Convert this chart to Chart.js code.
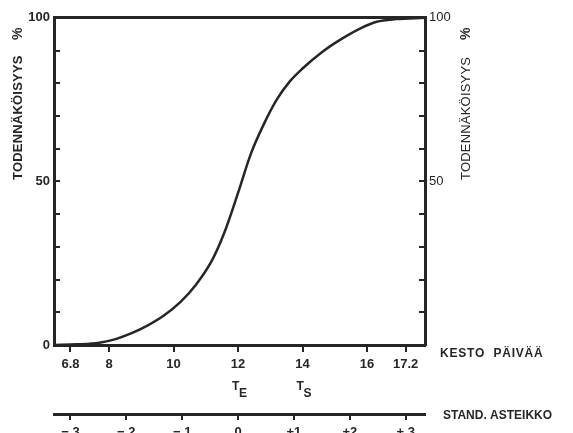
<!DOCTYPE html>
<html>
<head>
<meta charset="utf-8">
<script src="https://cdn.jsdelivr.net/npm/chart.js@4.4.0/dist/chart.umd.min.js"></script>
<style>
  html, body { margin: 0; padding: 0; background: #fff; }
  #wrap { width: 573px; height: 433px; }
</style>
</head>
<body>
<div id="wrap"><canvas id="sCurve" width="573" height="433"></canvas></div>
<script>
// duration (days) and cumulative probability (%)
const durationDays = [6.3, 7.0, 7.7, 8.2, 8.7, 9.2, 9.7, 10.2, 10.7, 11.2, 11.6, 12.0, 12.4, 12.8, 13.2, 13.6, 14.0, 14.6, 15.2, 15.8, 16.3, 16.9, 17.8];
const probability  = [0, 0.2, 0.7, 1.8, 3.6, 6.0, 9.0, 13.0, 18.5, 26.0, 35.0, 46.5, 58.5, 67.5, 75.0, 80.5, 84.5, 89.5, 93.5, 96.8, 98.8, 99.6, 100];

const durationTicks = [6.8, 8, 10, 12, 14, 16, 17.2];
const standardTicks = [-3, -2, -1, 0, 1, 2, 3];
const standardLabels = ['\u2212 3', '\u2212 2', '\u2212 1', '0', '+1', '+2', '+ 3'];

const meanDays = 12;          // T_E
const sdDays = 5.2 / 3;       // 6.8 .. 17.2 = -3 .. +3
const xMin = 6.29, xMax = 17.8;

const ink = '#262626';
const fam = "'Liberation Sans', Arial, sans-serif";
const tickFont = { family: fam, size: 13, weight: 'bold' };

function fixWidth(w) { return s => { s.width = w; }; }
function fixHeight(h) { return s => { s.height = h; }; }

// free text around the axes
const freeLabels = {
    id: 'freeLabels',
    afterDraw(chart) {
        const ctx = chart.ctx;
        const x = chart.scales.x;
        ctx.save();
        ctx.fillStyle = ink;
        ctx.textBaseline = 'middle';
        ctx.font = 'bold 12px ' + fam;
        ctx.letterSpacing = '0.8px';
        ctx.fillText('KESTO  P\u00c4IV\u00c4\u00c4', 440, 354);
        ctx.letterSpacing = '0px';
        ctx.fillText('STAND. ASTEIKKO', 443, 416);

        // T_E and T_S under the duration axis
        ctx.textBaseline = 'alphabetic';
        [[meanDays, 'E'], [14, 'S']].forEach(([v, sub]) => {
            const px = x.getPixelForValue(v);
            ctx.font = 'bold 12px ' + fam;
            ctx.fillText('T', px - 6, 390);
            ctx.fillText(sub, px + 1, 397);
        });

        // rotated axis titles
        [[18, 'bold'], [466, 'normal']].forEach(([cx, w]) => {
            ctx.save();
            ctx.translate(cx, 180);
            ctx.rotate(-Math.PI / 2);
            ctx.font = w + ' 13px ' + fam;
            ctx.letterSpacing = '0.2px';
            ctx.textAlign = 'left';
            ctx.textBaseline = 'middle';
            ctx.fillText('TODENN\u00c4K\u00d6ISYYS', 0, 0);
            ctx.font = 'bold 14px ' + fam;
            ctx.fillText('%', 140, 0);
            ctx.restore();
        });
        ctx.restore();
    }
};

const ctx = document.getElementById('sCurve').getContext('2d');
new Chart(ctx, {
    type: 'line',
    data: {
        datasets: [{
            data: durationDays.map((d, i) => ({ x: d, y: probability[i] })),
            borderColor: ink,
            borderWidth: 2.5,
            pointRadius: 0,
            cubicInterpolationMode: 'monotone',
            fill: false
        }]
    },
    options: {
        responsive: false,
        animation: false,
        layout: { padding: 0 },
        plugins: { legend: { display: false }, tooltip: { enabled: false } },
        scales: {
            x: {
                type: 'linear', position: 'bottom', weight: 0,
                min: xMin, max: xMax,
                afterBuildTicks: s => { s.ticks = durationTicks.map(v => ({ value: v })); },
                afterFit: fixHeight(69),
                border: { display: true, width: 3, color: ink },
                grid: { drawOnChartArea: false, tickLength: 7, lineWidth: 2, color: ink },
                ticks: { autoSkip: false, maxRotation: 0, padding: 5, color: ink, font: tickFont, callback: v => String(v) }
            },
            std: {
                type: 'linear', position: 'bottom', weight: 1,
                min: (xMin - meanDays) / sdDays, max: (xMax - meanDays) / sdDays,
                afterBuildTicks: s => { s.ticks = standardTicks.map(v => ({ value: v })); },
                afterFit: fixHeight(19),
                border: { display: true, width: 3, color: ink },
                grid: { drawOnChartArea: false, tickLength: 6, lineWidth: 2, color: ink },
                ticks: { autoSkip: false, maxRotation: 0, padding: 5, color: ink, font: tickFont,
                         callback: (v, i) => standardLabels[i] }
            },
            top: {
                type: 'linear', position: 'top',
                min: xMin, max: xMax,
                afterFit: fixHeight(10),
                border: { display: true, width: 3, color: ink },
                grid: { display: false, drawTicks: false },
                ticks: { display: false }
            },
            y: {
                type: 'linear', position: 'left',
                min: 0, max: 100,
                afterFit: fixWidth(54),
                border: { display: true, width: 3, color: ink },
                grid: { drawOnChartArea: false, tickLength: -6, lineWidth: 2, color: ink },
                ticks: { stepSize: 10, padding: 10, color: ink, font: tickFont,
                         callback: v => (v % 50 === 0 ? v : '') }
            },
            yRight: {
                type: 'linear', position: 'right',
                min: 0, max: 100,
                afterFit: fixWidth(148),
                border: { display: true, width: 3, color: ink },
                grid: { drawOnChartArea: false, tickLength: -6, lineWidth: 2, color: ink },
                ticks: { stepSize: 10, padding: 10, color: ink, font: { family: fam, size: 13 },
                         callback: v => (v === 50 || v === 100 ? v : '') }
            }
        }
    },
    plugins: [freeLabels]
});
</script>
</body>
</html>
